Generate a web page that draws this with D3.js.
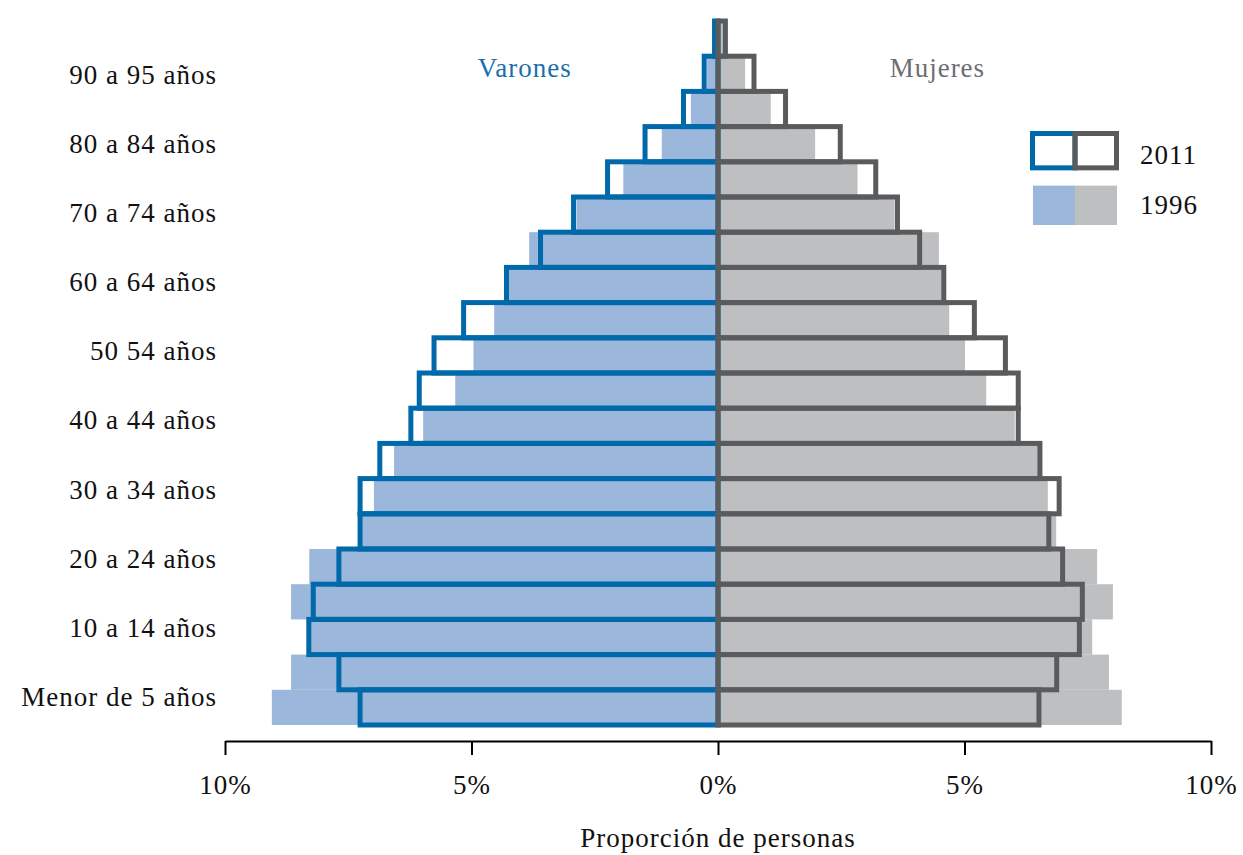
<!DOCTYPE html>
<html>
<head>
<meta charset="utf-8">
<script src="https://cdn.jsdelivr.net/npm/d3@7"></script>
<style>
  body { margin: 0; background: #fff; }
  svg { font-family: "Liberation Serif", "DejaVu Serif", serif; }
  .lbl { font-size: 27px; letter-spacing: 1px; }
</style>
</head>
<body>
<div id="chart"></div>
<script>
// age groups, bottom (0-4) to top (95+)
const ages = ["0-4","5-9","10-14","15-19","20-24","25-29","30-34","35-39","40-44","45-49",
              "50-54","55-59","60-64","65-69","70-74","75-79","80-84","85-89","90-94","95+"];
const ageLabels = ["Menor de 5 años","10 a 14 años","20 a 24 años","30 a 34 años","40 a 44 años",
                   "50 54 años","60 a 64 años","70 a 74 años","80 a 84 años","90 a 95 años"];

// percent of population
const male1996   = [9.05,8.66,8.28,8.66,8.29,7.22,6.98,6.57,5.98,5.33,4.96,4.54,4.25,3.83,2.87,1.92,1.14,0.55,0.22,0.05];
const male2011   = [7.26,7.69,8.30,8.21,7.69,7.26,7.26,6.86,6.23,6.06,5.76,5.16,4.29,3.60,2.93,2.24,1.48,0.70,0.28,0.07];
const female1996 = [8.19,7.93,7.59,8.01,7.69,6.86,6.69,6.49,6.02,5.44,5.01,4.69,4.54,4.48,3.58,2.83,1.97,1.07,0.55,0.11];
const female2011 = [6.51,6.87,7.33,7.39,6.99,6.71,6.92,6.53,6.09,6.09,5.83,5.20,4.58,4.09,3.64,3.20,2.48,1.37,0.73,0.15];

const xTicks = [-10, -5, 0, 5, 10];
const years = ["2011", "1996"];

const blueLine = "#0069aa", blueFill = "#9bb7db";
const greyLine = "#5a5b5d", greyFill = "#bebfc1";

const width = 1243, height = 855;
const svg = d3.select("#chart").append("svg").attr("width", width).attr("height", height);

const x = d3.scaleLinear().domain([-10, 10]).range([225, 1211]);
const y = d3.scaleBand().domain(ages).range([725, 21]).padding(0);
const yLab = d3.scalePoint().domain(ageLabels).range([697, 75]);

// helper: rect between 0 and v (v may be negative)
function bars(g, values, sign, cls) {
  return g.selectAll("rect." + cls)
    .data(values.map((v, i) => ({age: ages[i], v: v * sign})))
    .enter().append("rect").attr("class", cls)
    .attr("x", d => Math.min(x(0), x(d.v)))
    .attr("width", d => Math.abs(x(d.v) - x(0)))
    .attr("y", d => y(d.age))
    .attr("height", y.bandwidth());
}

const plot = svg.append("g");
bars(plot, male1996, -1, "m96").attr("fill", blueFill);
bars(plot, female1996, 1, "f96").attr("fill", greyFill);
bars(plot, male2011, -1, "m11").attr("fill", "none").attr("stroke", blueLine).attr("stroke-width", 5);
bars(plot, female2011, 1, "f11").attr("fill", "none").attr("stroke", greyLine).attr("stroke-width", 5);

// age labels
svg.append("g").selectAll("text")
  .data(ageLabels).enter().append("text").attr("class", "lbl")
  .attr("x", 217).attr("y", d => yLab(d)).attr("dy", "0.33em")
  .attr("text-anchor", "end").attr("fill", "#111").text(d => d);

// x axis
const xAxis = d3.axisBottom(x).tickValues(xTicks)
  .tickFormat(d => Math.abs(d) + "%").tickSize(14).tickSizeOuter(0).tickPadding(20);
const ax = svg.append("g").attr("transform", "translate(0,741)").call(xAxis);
ax.select(".domain").attr("stroke", "#000").attr("stroke-width", 2);
ax.selectAll(".tick line").attr("stroke", "#000").attr("stroke-width", 2);
ax.selectAll(".tick text").attr("class", "lbl").attr("fill", "#111")
  .style("font-family", "Liberation Serif, serif");

svg.append("text").attr("class", "lbl").attr("x", x(0)).attr("y", 847)
  .attr("text-anchor", "middle").attr("fill", "#111").text("Proporción de personas");

// side titles
svg.append("text").attr("class", "lbl").attr("x", x(-3.92)).attr("y", 68).attr("dy", "0.33em")
  .attr("text-anchor", "middle").attr("fill", "#1a6eae").text("Varones");
svg.append("text").attr("class", "lbl").attr("x", x(4.45)).attr("y", 68).attr("dy", "0.33em")
  .attr("text-anchor", "middle").attr("fill", "#6d6e70").text("Mujeres");

// legend
const lg = svg.append("g").attr("transform", "translate(1075,0)");
const legY = d3.scaleBand().domain(years).range([131, 225]).paddingInner(0.28);
years.forEach(yr => {
  const top = legY(yr), h = legY.bandwidth();
  if (yr === "2011") {
    lg.append("rect").attr("x", -42.5).attr("y", top + 2.5).attr("width", 42.5).attr("height", h - 5)
      .attr("fill", "none").attr("stroke", blueLine).attr("stroke-width", 5);
    lg.append("rect").attr("x", 0).attr("y", top + 2.5).attr("width", 41.5).attr("height", h - 5)
      .attr("fill", "none").attr("stroke", greyLine).attr("stroke-width", 5);
  } else {
    lg.append("rect").attr("x", -42).attr("y", top).attr("width", 42).attr("height", h).attr("fill", blueFill);
    lg.append("rect").attr("x", 0).attr("y", top).attr("width", 42).attr("height", h).attr("fill", greyFill);
  }
  lg.append("text").attr("class", "lbl").attr("x", 65)
    .attr("y", top + h / 2 + (yr === "2011" ? 4 : 0)).attr("dy", "0.33em")
    .attr("fill", "#111").text(yr);
});
</script>
</body>
</html>
